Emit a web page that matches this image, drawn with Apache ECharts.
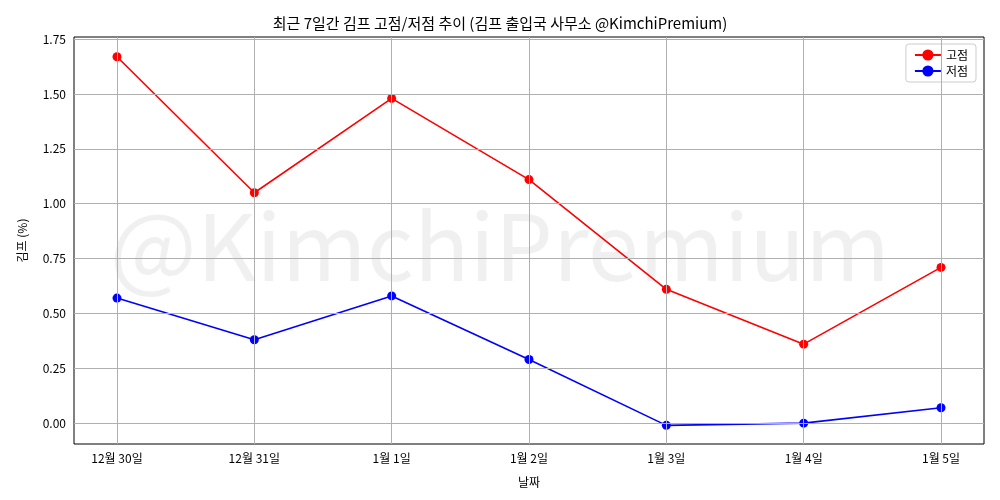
<!DOCTYPE html><html><head><meta charset="utf-8"><script src="https://cdn.jsdelivr.net/npm/echarts@6/dist/echarts.min.js"></script></head><body style="margin:0"><div id="c" style="width:1000px;height:500px"></div><script>
const categories=['12월 30일','12월 31일','1월 1일','1월 2일','1월 3일','1월 4일','1월 5일'];
const highs=[1.67,1.05,1.48,1.11,0.61,0.36,0.71];
const lows=[0.57,0.38,0.58,0.29,-0.01,0.0,0.07];
const yTicks=[0,0.25,0.5,0.75,1.0,1.25,1.5,1.75];
const xIdx=categories.map((_,i)=>i);
const F='"Noto Sans CJK KR", "DejaVu Sans", sans-serif';
const ch=echarts.init(document.getElementById('c'));
const grid={type:'line',markLine:{silent:true,symbol:'none',label:{show:false},lineStyle:{color:'#b0b0b0',width:1,type:'solid'},
 data:[...xIdx.map(v=>({xAxis:v})),...yTicks.map(v=>({yAxis:v}))]},data:[],z:0};
ch.setOption({
 animation:false,
 title:{text:'최근 7일간 김프 고점/저점 추이 (김프 출입국 사무소 @KimchiPremium)',left:'center',top:11,textStyle:{fontFamily:F,fontSize:15,fontWeight:'normal',color:'#000'}},
 graphic:[{type:'text',left:'center',top:200,z:-1,style:{text:'@KimchiPremium',font:'92px '+F,fill:'rgba(0,0,0,0.06)'}}],
 legend:{right:24,top:44,orient:'vertical',itemGap:4,backgroundColor:'#fff',borderColor:'#ccc',borderWidth:1,borderRadius:3,padding:[5,8],
  textStyle:{fontFamily:F,fontSize:12,color:'#000'},itemWidth:26,data:['고점','저점']},
 grid:{left:74,right:16,top:37,bottom:56,show:true,borderColor:'#000',borderWidth:1},
 xAxis:{type:'value',min:-0.313,max:6.313,name:'날짜',nameLocation:'middle',nameGap:32,nameTextStyle:{fontFamily:F,fontSize:12,color:'#000'},
  axisLine:{show:false},splitLine:{show:false},
  axisTick:{customValues:xIdx,length:4,lineStyle:{color:'#000'}},
  axisLabel:{customValues:xIdx,formatter:v=>categories[Math.round(v)],fontFamily:F,fontSize:12,color:'#000',margin:8}},
 yAxis:{type:'value',min:-0.095,max:1.76,name:'김프 (%)',nameLocation:'middle',nameGap:46,nameTextStyle:{fontFamily:F,fontSize:12,color:'#000'},
  axisLine:{show:false},splitLine:{show:false},
  axisTick:{show:true,customValues:yTicks,length:4,lineStyle:{color:'#000'}},
  axisLabel:{customValues:yTicks,formatter:v=>v.toFixed(2),fontFamily:F,fontSize:12,color:'#000'}},
 series:[grid,
  {name:'고점',type:'line',data:highs.map((v,i)=>[i,v]),color:'#ff0000',symbol:'circle',symbolSize:9,lineStyle:{width:1.6}},
  {name:'저점',type:'line',data:lows.map((v,i)=>[i,v]),color:'#0000ff',symbol:'circle',symbolSize:9,lineStyle:{width:1.6}}]
});
</script></body></html>
